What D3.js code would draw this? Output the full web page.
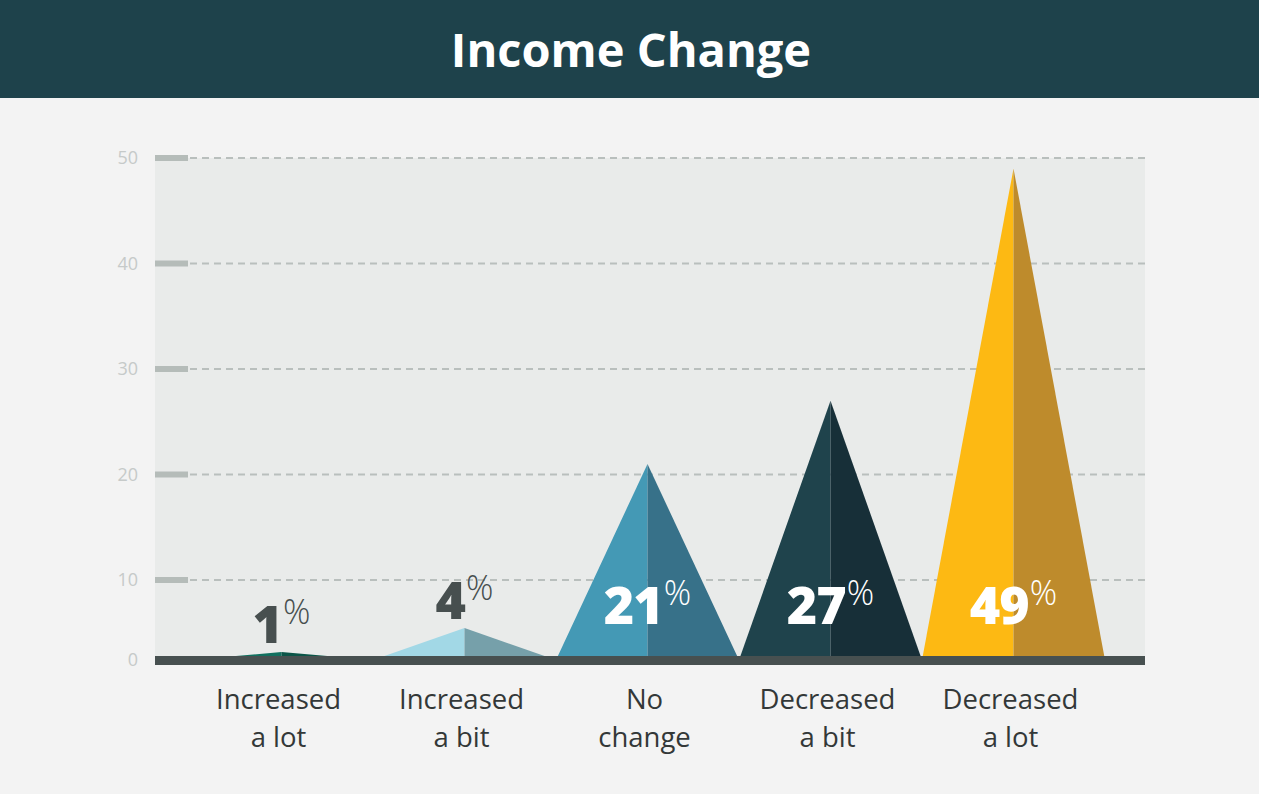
<!DOCTYPE html>
<html>
<head>
<meta charset="utf-8">
<script src="https://cdn.jsdelivr.net/npm/d3@7"></script>
<style>
  body { margin: 0; background: #fff; }
  svg { display: block; }
</style>
</head>
<body>
<script>
var width = 1261,
    height = 796;

// data
var categories = ["Increased a lot", "Increased a bit", "No change", "Decreased a bit", "Decreased a lot"];
var labelLines = [["Increased", "a lot"], ["Increased", "a bit"], ["No", "change"], ["Decreased", "a bit"], ["Decreased", "a lot"]];
var values = [1, 4, 21, 27, 49];
var lightColors = ["#11705f", "#a2d8e6", "#4499b5", "#1f434c", "#fdb913"];
var darkColors = ["#0b5548", "#76a0aa", "#377189", "#172f38", "#be8b2c"];
var yTicks = [0, 10, 20, 30, 40, 50];

var svg = d3.select("body").append("svg")
    .attr("width", width)
    .attr("height", height);

// background panels
svg.append("rect").attr("x", 0).attr("y", 0).attr("width", 1259).attr("height", 794).attr("fill", "#f3f3f3");
svg.append("rect").attr("x", 0).attr("y", 0).attr("width", 1259).attr("height", 98).attr("fill", "#1e424b");

svg.append("text")
    .attr("x", 631)
    .attr("y", 67)
    .attr("text-anchor", "middle")
    .style("font-family", "'Open Sans', sans-serif")
    .style("font-weight", "700")
    .style("font-size", "47px")
    .style("fill", "#fff")
    .text("Income Change");

var plotLeft = 155, plotRight = 1145;

var x = d3.scaleBand()
    .domain(categories)
    .range([190, 1105])
    .padding(0);

// the picture's zero sits lower than the even 10-step grid
var y = d3.scaleLinear()
    .domain([0, 10, 50])
    .range([660, 580, 158]);

svg.append("rect")
    .attr("x", plotLeft)
    .attr("y", y(50))
    .attr("width", plotRight - plotLeft)
    .attr("height", y(0) - y(50))
    .attr("fill", "#e9ebea");

// grid
var grid = svg.append("g");
yTicks.filter(function(d) { return d > 0; }).forEach(function(t) {
    grid.append("line")
        .attr("x1", 190).attr("x2", plotRight)
        .attr("y1", y(t)).attr("y2", y(t))
        .attr("stroke", "#b9bfbd")
        .attr("stroke-width", 2)
        .attr("stroke-dasharray", "7,5");
    grid.append("rect")
        .attr("x", plotLeft).attr("y", y(t) - 3)
        .attr("width", 33).attr("height", 6)
        .attr("fill", "#b5bcb9");
});

grid.selectAll(".ylab")
    .data(yTicks)
    .enter().append("text")
    .attr("class", "ylab")
    .attr("x", 138)
    .attr("y", function(d) { return d === 0 ? 660 : y(d); })
    .attr("dy", "0.35em")
    .attr("text-anchor", "end")
    .style("font-family", "'Open Sans', sans-serif")
    .style("font-size", "18px")
    .style("fill", "#c6cac9")
    .text(function(d) { return d; });

// triangles, split in a light and a dark half
var tri = svg.append("g").selectAll("g")
    .data(values)
    .enter().append("g");

tri.append("path")
    .attr("fill", function(d, i) { return lightColors[i]; })
    .attr("d", function(d, i) {
        var c = x(categories[i]) + x.bandwidth() / 2;
        return "M" + x(categories[i]) + "," + y(0) + "L" + c + "," + y(d) + "L" + c + "," + y(0) + "Z";
    });

tri.append("path")
    .attr("fill", function(d, i) { return darkColors[i]; })
    .attr("d", function(d, i) {
        var c = x(categories[i]) + x.bandwidth() / 2;
        return "M" + c + "," + y(d) + "L" + (x(categories[i]) + x.bandwidth()) + "," + y(0) + "L" + c + "," + y(0) + "Z";
    });

// baseline
svg.append("rect")
    .attr("x", plotLeft).attr("y", 656)
    .attr("width", plotRight - plotLeft).attr("height", 9)
    .attr("fill", "#475050");

// value labels
var vlab = svg.append("g").selectAll("text")
    .data(values)
    .enter().append("text")
    .attr("x", function(d, i) { return x(categories[i]) + x.bandwidth() / 2; })
    .attr("y", function(d) { return d < 10 ? y(d) - 9 : 624; })
    .attr("text-anchor", "middle")
    .style("font-family", "'Open Sans', sans-serif")
    .style("fill", function(d) { return d < 10 ? "#474f4f" : "#fff"; });

vlab.append("tspan")
    .style("font-weight", "800")
    .style("font-size", "52px")
    .style("letter-spacing", "-1px")
    .text(function(d) { return d; });

vlab.append("tspan")
    .attr("dy", -19)
    .attr("dx", 1)
    .style("font-weight", "300")
    .style("font-size", "34px")
    .text("%");

// category labels
var clab = svg.append("g").selectAll("text")
    .data(labelLines)
    .enter().append("text")
    .attr("text-anchor", "middle")
    .style("font-family", "'Open Sans', sans-serif")
    .style("font-size", "27.5px")
    .style("fill", "#333838");

clab.selectAll("tspan")
    .data(function(d, i) { return d.map(function(s) { return { s: s, i: i }; }); })
    .enter().append("tspan")
    .attr("x", function(d) { return x(categories[d.i]) + x.bandwidth() / 2 - 3; })
    .attr("y", function(d, j) { return 709 + j * 38; })
    .text(function(d) { return d.s; });
</script>
</body>
</html>
